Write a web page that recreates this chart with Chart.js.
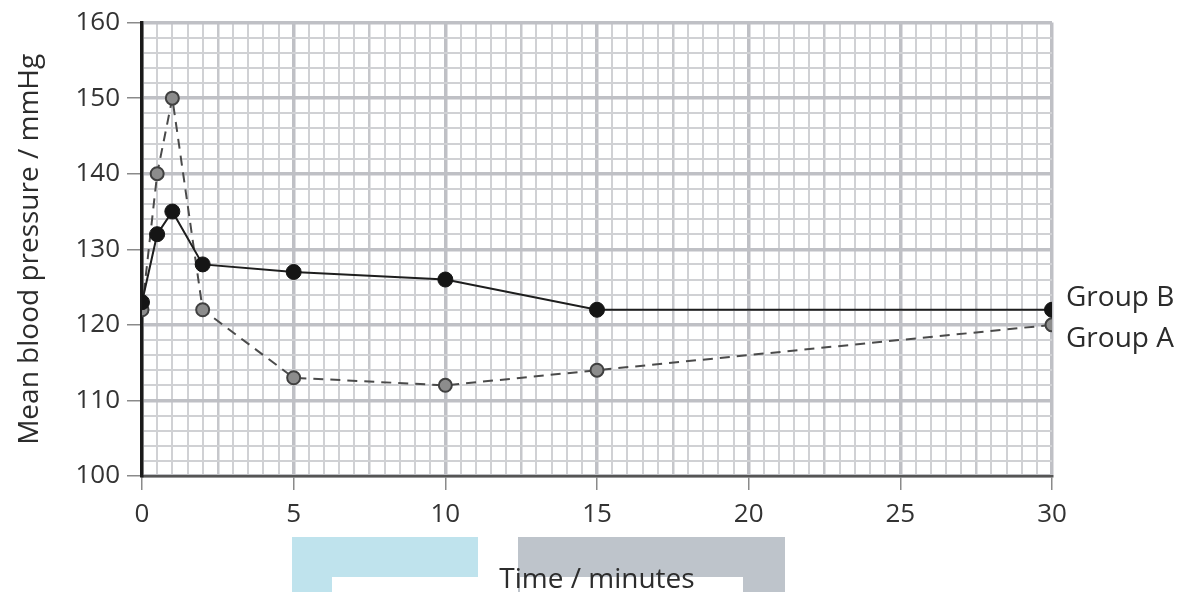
<!DOCTYPE html>
<html>
<head>
<meta charset="utf-8">
<script src="https://cdn.jsdelivr.net/npm/chart.js@4.4.1/dist/chart.umd.min.js"></script>
<style>
  html, body { margin: 0; padding: 0; background: #fff; }
  #wrap { position: relative; width: 1191px; height: 592px; overflow: hidden; }
  .patch { position: absolute; }
  canvas { position: absolute; left: 0; top: 0; }
</style>
</head>
<body>
<div id="wrap">
  <div class="patch" style="left:292px;top:537px;width:186px;height:40px;background:#bfe3ed"></div>
  <div class="patch" style="left:292px;top:577px;width:40px;height:15px;background:#bfe3ed"></div>
  <div class="patch" style="left:518px;top:537px;width:267px;height:55px;background:#bec4cb"></div>
  <div class="patch" style="left:520px;top:577px;width:223px;height:15px;background:#fff"></div>
  <canvas id="bp-chart" width="1191" height="592"></canvas>
</div>
<script>
const timeMinutes = [0, 0.5, 1, 2, 5, 10, 15, 30];
const groupA = [122, 140, 150, 122, 113, 112, 114, 120];
const groupB = [123, 132, 135, 128, 127, 126, 122, 122];
const xTickLabels = [0, 5, 10, 15, 20, 25, 30];
const yTickLabels = [100, 110, 120, 130, 140, 150, 160];

const bpChart = document.getElementById('bp-chart');

function toPoints(values) {
    return timeMinutes.map((t, i) => ({ x: t, y: values[i] }));
}

function near(v, step) {
    return Math.abs(v / step - Math.round(v / step)) < 1e-6;
}

// text next to the last point of each line
const groupLabels = {
    id: 'groupLabels',
    afterDatasetsDraw(chart) {
        const ctx = chart.ctx;
        ctx.save();
        ctx.font = '28px "Open Sans"';
        ctx.fillStyle = '#2c2c2c';
        ctx.textAlign = 'left';
        ctx.textBaseline = 'middle';
        chart.data.datasets.forEach((ds, i) => {
            const pts = chart.getDatasetMeta(i).data;
            const last = pts[pts.length - 1];
            ctx.fillText(ds.label, last.x + 14, last.y + ds.labelShift);
        });
        ctx.restore();
    }
};

new Chart(bpChart, {
    type: 'line',
    data: {
        datasets: [{
            label: 'Group B',
            data: toPoints(groupB),
            borderColor: '#1e1e1e',
            borderWidth: 2,
            pointRadius: 7.5,
            pointBackgroundColor: '#151515',
            pointBorderColor: '#151515',
            pointBorderWidth: 1,
            tension: 0,
            labelShift: -12
        }, {
            label: 'Group A',
            data: toPoints(groupA),
            borderColor: '#4a4a4a',
            borderWidth: 2,
            borderDash: [10, 7],
            pointRadius: 6.5,
            pointBackgroundColor: '#8c8c8c',
            pointBorderColor: '#404040',
            pointBorderWidth: 2,
            tension: 0,
            labelShift: 14
        }]
    },
    options: {
        responsive: false,
        animation: false,
        layout: { padding: { left: 0, right: 139, top: 20, bottom: 0 } },
        plugins: {
            legend: { display: false },
            tooltip: { enabled: false }
        },
        scales: {
            x: {
                type: 'linear',
                min: 0,
                max: 30,
                afterFit: scale => { scale.height = 116; },
                ticks: {
                    stepSize: 0.5,
                    autoSkip: false,
                    maxRotation: 0,
                    padding: 9,
                    color: '#333',
                    font: { family: 'Open Sans', size: 26 },
                    callback: v => xTickLabels.includes(v) ? v : ''
                },
                grid: {
                    color: c => near(c.tick.value, 5) ? '#bfc0c5' : near(c.tick.value, 2.5) ? '#c6c7cb' : '#d0d1d4',
                    lineWidth: c => near(c.tick.value, 5) ? 3.5 : near(c.tick.value, 2.5) ? 2.5 : 2,
                    tickLength: 14,
                    tickWidth: 1.5,
                    tickColor: c => xTickLabels.includes(c.tick.value) ? '#8a8a8a' : 'rgba(0,0,0,0)'
                },
                border: { color: '#555', width: 2.5 },
                title: {
                    display: true,
                    text: 'Time / minutes',
                    color: '#2c2c2c',
                    font: { family: 'Open Sans', size: 28, lineHeight: 0.86 },
                    padding: { top: 0, bottom: 0 }
                }
            },
            y: {
                min: 100,
                max: 160,
                afterFit: scale => { scale.width = 142; },
                ticks: {
                    stepSize: 2,
                    autoSkip: false,
                    padding: 7,
                    color: '#333',
                    font: { family: 'Open Sans', size: 26 },
                    callback: v => yTickLabels.includes(v) ? v : ''
                },
                grid: {
                    color: c => near(c.tick.value, 10) ? '#bfc0c5' : '#d0d1d4',
                    lineWidth: c => near(c.tick.value, 10) ? 3.5 : 2,
                    tickLength: 15,
                    tickWidth: 1.5,
                    tickColor: c => yTickLabels.includes(c.tick.value) ? '#8a8a8a' : 'rgba(0,0,0,0)'
                },
                border: { color: '#1a1a1a', width: 3.5 },
                title: {
                    display: true,
                    text: 'Mean blood pressure / mmHg',
                    color: '#2c2c2c',
                    font: { family: 'Open Sans', size: 28 },
                    padding: { top: 13, bottom: 0 }
                }
            }
        }
    },
    plugins: [groupLabels]
});
</script>
</body>
</html>
